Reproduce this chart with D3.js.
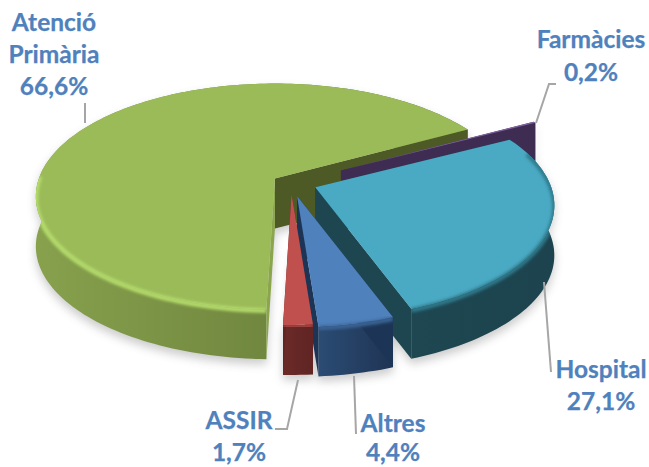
<!DOCTYPE html>
<html><head><meta charset="utf-8">
<script src="https://cdn.jsdelivr.net/npm/d3@7/dist/d3.min.js"></script>
<style>html,body{margin:0;padding:0;background:#fff;overflow:hidden}svg{display:block}text{font-family:Lato,"Open Sans",sans-serif;font-weight:700;fill:#4f81bd;stroke:#4f81bd;stroke-width:.25px;font-size:24.5px;text-anchor:middle}</style>
</head><body><svg id="c" width="649" height="467"></svg>
<script>
const categories = ["Farmàcies","Hospital","Altres","ASSIR","Atenció Primària"];
const shares = [0.2,27.1,4.4,1.7,66.6];
const shareLabels = ["0,2%","27,1%","4,4%","1,7%","66,6%"];
const explosion = [0.24,0.11,0.12,0.10,0.08];
const topColors = ["#8064a2","#4aa9c3","#4f81bd","#c0504d","#9bbb59"];
const sideLeft = ["#3f2c52","#1e4752","#2b4c74","#6b2a28","#87a14d"];
const sideRight = ["#3f2c52","#1c434e","#1f3454","#5f2523","#5d7033"];
const cutStart = ["#3f2c52","#1e4651","#1c3556","#632523","#8aa54c"];
const cutEnd = ["#3f2c52","#1e4651","#1c3556","#632523","#4d5a26"];
const rimColors = ["#8064a2","#2f7a8c","#3a6596","#a04442","#b6de6c"];
const rimReach = [0,0.35,1,1,0.05];

const W=649,H=467,cx=291,cy=183,rx=236,ry=110,persp=0.16,depth=50,startDeg=61.5;
const svg=d3.select("#c");
const defs=svg.append("defs");
const blur=(id,s)=>defs.append("filter").attr("id",id).attr("x","-30%").attr("y","-30%").attr("width","160%").attr("height","160%").append("feGaussianBlur").attr("stdDeviation",s);
blur("soft",5);blur("rim",1.4);

const arcs=d3.pie().sort(null).value(d=>d).startAngle(startDeg*Math.PI/180).endAngle((startDeg+360)*Math.PI/180)(shares);
const line=d3.line();
// perspective projection of a point in unit-disc coordinates, pushed out along the slice's mid angle
function proj(a,r,e,mid){
  const Y0=-r*Math.cos(a);
  const s=1/(1-persp*Y0);
  const ox=rx*e*Math.sin(mid), oy=-ry*e*Math.cos(mid);
  return [cx+ox+rx*r*Math.sin(a)*s, cy+oy+ry*Y0*s];
}
const drop=p=>[p[0],p[1]+depth];
const slices=arcs.map((d,i)=>{
  const mid=(d.startAngle+d.endAngle)/2,e=explosion[i];
  const n=Math.max(3,Math.ceil((d.endAngle-d.startAngle)*40));
  const as=d3.range(n+1).map(k=>d.startAngle+(d.endAngle-d.startAngle)*k/n);
  const rim=as.map(a=>proj(a,1,e,mid));
  const apex=proj(0,0,e,mid);
  return {i,as,rim,apex,mid,e};
});
slices.forEach(s=>{
  const xs=s.rim.map(p=>p[0]);
  const g=defs.append("linearGradient").attr("id","side"+s.i).attr("gradientUnits","userSpaceOnUse")
    .attr("x1",d3.min(xs)).attr("x2",d3.max(xs)).attr("y1",0).attr("y2",0);
  g.append("stop").attr("offset",0).attr("stop-color",sideLeft[s.i]);
  g.append("stop").attr("offset",1).attr("stop-color",sideRight[s.i]);
});
const wallPts=s=>s.rim.concat(s.rim.slice().reverse().map(drop));
// soft shadow
const shadow=svg.append("g").attr("filter","url(#soft)").attr("opacity",0.3);
slices.forEach(s=>{
  shadow.append("path").attr("d",line(wallPts(s).map(p=>[p[0],p[1]+5]))+"Z").attr("fill","#555");
  shadow.append("path").attr("d",line([s.apex,...s.rim].map(p=>[p[0],p[1]+depth+5]))+"Z").attr("fill","#555");
});
// painter order: back to front
[4,0,1,2,3].forEach(i=>{
  const s=slices[i],g=svg.append("g").attr("class","slice").attr("data-name",categories[i]);
  g.append("path").attr("d",line(wallPts(s))+"Z").attr("fill",`url(#side${i})`);
  const first=s.rim[0],last=s.rim[s.rim.length-1];
  g.append("path").attr("d",line([s.apex,last,drop(last),drop(s.apex)])+"Z").attr("fill",cutEnd[i]);
  g.append("path").attr("d",line([s.apex,first,drop(first),drop(s.apex)])+"Z").attr("fill",cutStart[i]);
  g.append("path").attr("d",line([s.apex,...s.rim])+"Z").attr("fill",topColors[i]);
  // bevel along the near rim, kept inside the slice's silhouette
  const cp=defs.append("clipPath").attr("id","clip"+i);
  cp.append("path").attr("d",line(wallPts(s))+"Z");
  cp.append("path").attr("d",line([s.apex,...s.rim])+"Z");
  const near=s.rim.filter((p,k)=>Math.cos(s.as[k])<rimReach[i]);
  if(near.length>1&&i!==0){
    g.append("g").attr("clip-path",`url(#clip${i})`).append("path")
     .attr("d",line(near.map(p=>[p[0],p[1]+1.5]))).attr("fill","none")
     .attr("stroke",rimColors[i]).attr("stroke-width",4.5).attr("filter","url(#rim)");
  }
});
// leader lines
const leaders=[
 [[85,103],[85,123]],
 [[556,84],[549,84],[536,123]],
 [[544,282],[551,372]],
 [[354,376],[356,434]],
 [[275,429],[287,429],[298,380]]
];
svg.append("g").selectAll("path").data(leaders).join("path")
 .attr("d",d=>line(d)).attr("fill","none").attr("stroke","#a6a6a6").attr("stroke-width",2);
// labels
const labelSpec=[
 {x:591,ys:[48,81],lines:[categories[0],shareLabels[0]]},
 {x:601,ys:[378,410],lines:[categories[1],shareLabels[1]]},
 {x:393,ys:[432,461],lines:[categories[2],shareLabels[2]]},
 {x:239,ys:[429,461],lines:[categories[3],shareLabels[3]]},
 {x:54,ys:[31,63,95],lines:["Atenció","Primària",shareLabels[4]]}
];
labelSpec.forEach(l=>l.lines.forEach((t,k)=>svg.append("text").attr("x",l.x).attr("y",l.ys[k]).text(t)));
</script></body></html>
